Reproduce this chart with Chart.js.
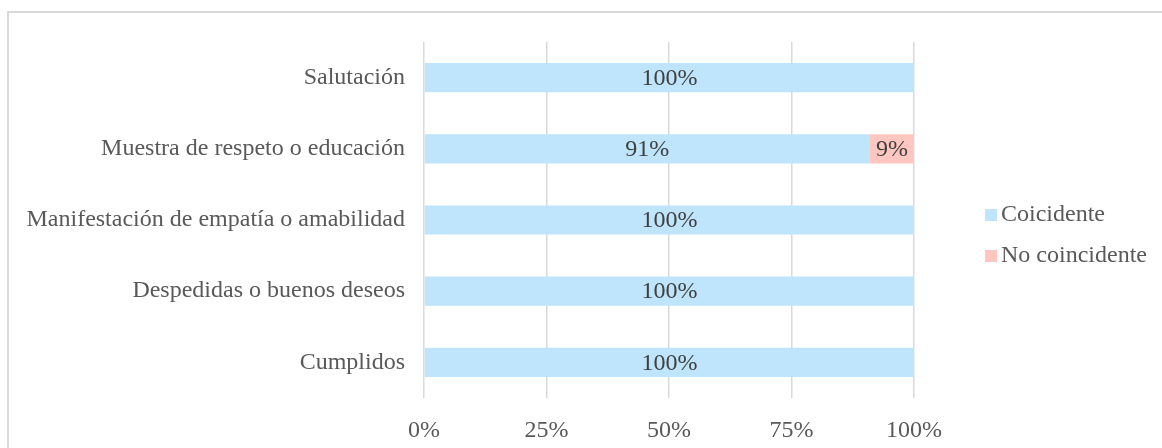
<!DOCTYPE html>
<html>
<head>
<meta charset="utf-8">
<script src="https://cdn.jsdelivr.net/npm/chart.js@4.4.1/dist/chart.umd.min.js"></script>
<style>
  html, body { margin: 0; padding: 0; background: #fff; overflow: hidden; }
  #marco { position: absolute; left: 7px; top: 11px; width: 1300px; height: 600px; border: 2px solid #d9d9d9; }
  #wrap { position: absolute; left: 0; top: 0; width: 1162px; height: 448px; }
</style>
</head>
<body>
<div id="marco"></div>
<div id="wrap"><canvas id="grafico"></canvas></div>
<script>
// Datos
const categorias = [
    "Salutación",
    "Muestra de respeto o educación",
    "Manifestación de empatía o amabilidad",
    "Despedidas o buenos deseos",
    "Cumplidos"
];
const coincidente = [100, 91, 100, 100, 100];
const noCoincidente = [0, 9, 0, 0, 0];
const ticksX = ["0%", "25%", "50%", "75%", "100%"];

const fuente = "'Liberation Serif', 'Times New Roman', serif";
const gris = "#595959";

// Etiquetas dentro de las barras
const etiquetas = {
    id: 'etiquetas',
    afterDatasetsDraw(chart) {
        const ctx = chart.ctx;
        ctx.save();
        ctx.font = "24px " + fuente;
        ctx.fillStyle = "#404040";
        ctx.textAlign = "center";
        ctx.textBaseline = "middle";
        chart.data.datasets.forEach((ds, i) => {
            chart.getDatasetMeta(i).data.forEach((bar, j) => {
                if (!ds.data[j]) return;
                const p = bar.getProps(['x', 'y', 'base']);
                ctx.fillText(ds.data[j] + "%", (p.x + p.base) / 2, p.y + 1);
            });
        });
        ctx.restore();
    }
};

// Leyenda a la derecha
const leyenda = {
    id: 'leyenda',
    afterDraw(chart) {
        const ctx = chart.ctx;
        ctx.save();
        ctx.font = "24px " + fuente;
        ctx.textBaseline = "middle";
        chart.data.datasets.forEach((ds, i) => {
            const y = 214 + i * 41;
            ctx.fillStyle = ds.backgroundColor;
            ctx.fillRect(985, y - 5, 12, 12);
            ctx.fillStyle = gris;
            ctx.fillText(ds.label, 1001, y + 1);
        });
        ctx.restore();
    }
};

const ctx = document.getElementById('grafico').getContext('2d');
new Chart(ctx, {
    type: 'bar',
    data: {
        labels: categorias,
        datasets: [
            { label: 'Coicidente', data: coincidente, backgroundColor: '#bee5fb', barPercentage: 0.41, categoryPercentage: 1 },
            { label: 'No coincidente', data: noCoincidente, backgroundColor: '#ffc7c0', barPercentage: 0.41, categoryPercentage: 1 }
        ]
    },
    options: {
        indexAxis: 'y',
        responsive: true,
        maintainAspectRatio: false,
        animation: false,
        layout: { padding: { top: 42, right: 248, bottom: 0, left: 0 } },
        plugins: { legend: { display: false }, tooltip: { enabled: false } },
        scales: {
            x: {
                stacked: true,
                min: 0,
                max: 100,
                ticks: {
                    stepSize: 25,
                    color: gris,
                    font: { family: fuente, size: 24 },
                    padding: 18,
                    callback: (v, i) => ticksX[i]
                },
                grid: { color: '#d9d9d9', lineWidth: 1.5, drawTicks: false },
                border: { display: false },
                afterFit: s => { s.height = 50; }
            },
            y: {
                stacked: true,
                ticks: {
                    color: gris,
                    font: { family: fuente, size: 24 },
                    padding: 19
                },
                grid: { display: false, drawTicks: false },
                border: { display: false },
                afterFit: s => { s.width = 424; }
            }
        }
    },
    plugins: [etiquetas, leyenda]
});
</script>
</body>
</html>
